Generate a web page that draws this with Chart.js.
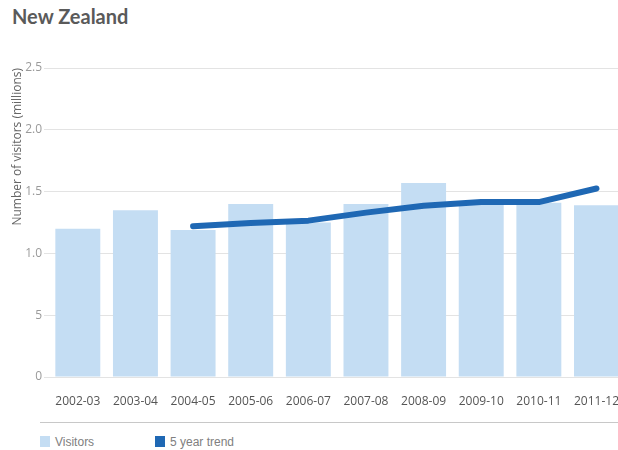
<!DOCTYPE html>
<html>
<head>
<meta charset="utf-8">
<script src="https://cdn.jsdelivr.net/npm/chart.js@4/dist/chart.umd.min.js"></script>
<style>
  html, body { margin: 0; padding: 0; background: #fff; overflow: hidden; width: 618px; height: 450px; }
  #titulo { position: absolute; left: 12px; top: 4px; margin: 0; font: 700 20px Lato, sans-serif; color: #5a5a5a; }
  #grafico-box { position: absolute; left: 0; top: 50px; width: 636px; height: 365px; }
  #separador { position: absolute; left: 40px; top: 422px; width: 578px; border-top: 1px solid #c8c8c8; }
  #legenda { position: absolute; left: 40px; top: 436px; font: 12px "Liberation Sans", Arial, sans-serif; color: #808080; }
  .item { position: absolute; top: 0; white-space: nowrap; line-height: 13px; }
  .item span.cor { display: inline-block; width: 10px; height: 11px; vertical-align: -1px; margin-right: 5px; }
</style>
</head>
<body>
<h1 id="titulo">New Zealand</h1>
<div id="grafico-box"><canvas id="grafico-nz"></canvas></div>
<div id="separador"></div>
<div id="legenda"></div>

<script>
const anos = ["2002-03", "2003-04", "2004-05", "2005-06", "2006-07", "2007-08", "2008-09", "2009-10", "2010-11", "2011-12"];
const visitantes = [1.20, 1.35, 1.19, 1.40, 1.25, 1.40, 1.57, 1.41, 1.41, 1.39];
const tendencia5anos = [null, null, 1.22, 1.245, 1.265, 1.33, 1.385, 1.415, 1.415, 1.525];
const rotulosY = ["0", "5", "1.0", "1.5", "2.0", "2.5"];

const corVisitantes = "#c4ddf3";
const corTendencia = "#1f68b4";

const legendaItens = [
  { label: "Visitors", cor: corVisitantes, x: 0 },
  { label: "5 year trend", cor: corTendencia, x: 115 }
];

document.getElementById("legenda").innerHTML = legendaItens
  .map(i => `<div class="item" style="left:${i.x}px"><span class="cor" style="background:${i.cor}"></span>${i.label}</div>`)
  .join("");

const ctx = document.getElementById("grafico-nz").getContext("2d");

new Chart(ctx, {
  type: "bar",
  data: {
    labels: anos,
    datasets: [
      {
        type: "line",
        label: "5 year trend",
        data: tendencia5anos,
        borderColor: corTendencia,
        borderWidth: 6,
        borderCapStyle: "round",
        borderJoinStyle: "round",
        pointRadius: 0,
        fill: false,
        order: 0
      },
      {
        label: "Visitors",
        data: visitantes,
        backgroundColor: corVisitantes,
        barPercentage: 0.78,
        categoryPercentage: 1,
        order: 1
      }
    ]
  },
  options: {
    responsive: true,
    maintainAspectRatio: false,
    animation: false,
    layout: { padding: { top: 18, left: 0, right: 0, bottom: 0 } },
    plugins: {
      legend: { display: false },
      tooltip: { enabled: false }
    },
    scales: {
      x: {
        grid: { display: false, drawTicks: false },
        border: { display: true, color: "#e3e3e3" },
        ticks: {
          color: "#555",
          padding: 17,
          maxRotation: 0,
          font: { family: "'Open Sans', sans-serif", size: 12 }
        },
        afterFit: scale => { scale.height = 38; }
      },
      y: {
        min: 0,
        max: 2.5,
        border: { display: false },
        grid: { color: "#e3e3e3", tickLength: 5, drawTicks: true },
        ticks: {
          stepSize: 0.5,
          color: "#9a9a9a",
          padding: 2,
          font: { family: "'Open Sans', sans-serif", size: 12 },
          callback: (val, i) => rotulosY[i]
        },
        title: {
          display: true,
          text: "Number of visitors (millions)",
          align: "end",
          color: "#666",
          padding: { top: 10, bottom: 0 },
          font: { family: "'Open Sans', sans-serif", size: 12 }
        },
        afterFit: scale => { scale.width = 49; }
      }
    }
  }
});
</script>
</body>
</html>
